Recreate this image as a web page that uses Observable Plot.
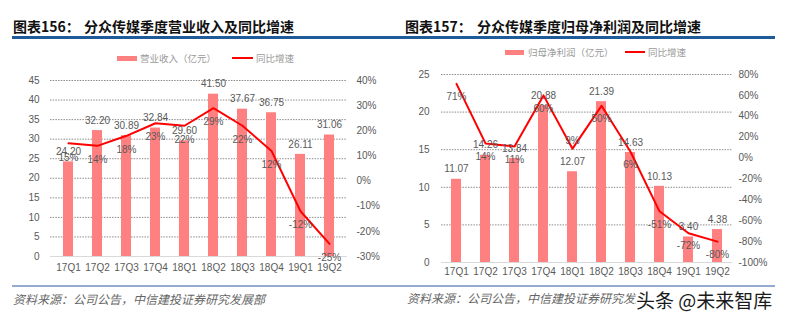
<!DOCTYPE html>
<html>
<head>
<meta charset="utf-8">
<script src="https://cdn.jsdelivr.net/npm/d3@7"></script>
<script src="https://cdn.jsdelivr.net/npm/@observablehq/plot@0.6"></script>
<style>
  html, body { margin: 0; padding: 0; background: #fff; }
  #root { position: relative; width: 790px; height: 321px; overflow: hidden; font-family: "Liberation Sans", Arial, sans-serif; }
  .abs { position: absolute; white-space: nowrap; }
  .title { font-family: "Noto Sans CJK SC", sans-serif; font-weight: bold; font-size: 14px; line-height: 14px; color: #111; }
  .legend { font-family: "Noto Sans CJK SC", sans-serif; font-size: 9.5px; line-height: 10px; color: #9a9a9a; }
  .source { font-family: "Noto Sans CJK SC", sans-serif; font-style: italic; font-size: 12px; line-height: 14px; color: #666; }
  .plot { position: absolute; }
</style>
</head>
<body>
<div id="root"></div>
<script>
// ---------- data ----------
const quarters = ["17Q1","17Q2","17Q3","17Q4","18Q1","18Q2","18Q3","18Q4","19Q1","19Q2"];
const revenue = [24.20, 32.20, 30.89, 32.84, 29.60, 41.50, 37.67, 36.75, 26.11, 31.06];
const revenueYoY = [15, 14, 18, 23, 22, 29, 22, 12, -12, -25];
const profit = [11.07, 14.26, 13.84, 20.88, 12.07, 21.39, 14.63, 10.13, 3.40, 4.38];
const profitYoY = [71, 14, 11, 60, 9, 50, 6, -51, -72, -80];
const leftTicksL = [0, 5, 10, 15, 20, 25, 30, 35, 40, 45];
const leftTicksR = [-30, -20, -10, 0, 10, 20, 30, 40];
const rightTicksL = [0, 5, 10, 15, 20, 25];
const rightTicksR = [-100, -80, -60, -40, -20, 0, 20, 40, 60, 80];

const root = document.getElementById("root");
function addDiv(cls, style, text) {
  const d = document.createElement("div");
  d.className = "abs " + cls;
  Object.assign(d.style, style);
  if (text != null) d.textContent = text;
  root.appendChild(d);
  return d;
}

// ---------- decorations ----------
addDiv("", {left: "12px", top: "36px", width: "763px", height: "3px", background: "#1f5b98"});
addDiv("", {left: "12px", top: "285px", width: "763px", height: "1.5px", background: "#93acd0"});
addDiv("title", {left: "13px", top: "19px"}, "图表156：");
addDiv("title", {left: "84px", top: "19px"}, "分众传媒季度营业收入及同比增速");
addDiv("title", {left: "405px", top: "19px"}, "图表157：");
addDiv("title", {left: "477px", top: "19px"}, "分众传媒季度归母净利润及同比增速");

// legends
addDiv("", {left: "117px", top: "56px", width: "20px", height: "5px", background: "#ff8080"});
addDiv("legend", {left: "140px", top: "53px"}, "营业收入（亿元）");
addDiv("", {left: "232px", top: "57px", width: "21px", height: "2px", background: "#ff0000"});
addDiv("legend", {left: "256px", top: "53px"}, "同比增速");
addDiv("", {left: "505px", top: "50px", width: "19px", height: "5px", background: "#ff8080"});
addDiv("legend", {left: "528px", top: "47px"}, "归母净利润（亿元）");
addDiv("", {left: "625px", top: "51px", width: "20px", height: "2px", background: "#ff0000"});
addDiv("legend", {left: "648px", top: "47px"}, "同比增速");

// sources
addDiv("source", {left: "13px", top: "292px"}, "资料来源：公司公告，中信建投证券研究发展部");
addDiv("source", {left: "407px", top: "291px"}, "资料来源：公司公告，中信建投证券研究发展部");
addDiv("", {left: "636px", top: "288px", fontFamily: "'Noto Sans CJK SC', sans-serif", fontSize: "19px", lineHeight: "24px", color: "#1a1a1a", background: "#fff", paddingRight: "10px"}, "头条 @未来智库");

// ---------- charts ----------
const barColor = "#ff8080";
const lineColor = "#ff0000";
const textColor = "#595959";

function makeChart(opts) {
  const {values, yoy, yMax, pMin, pMax, ticksL, ticksR, width, height, mL, mR, mT, mB, xPad, lPad, rPad, fmtVal, aboveSet, pctDy} = opts;
  const toL = p => (p - pMin) / (pMax - pMin) * yMax;
  const data = quarters.map((q, i) => ({q, v: values[i], p: yoy[i], pl: toL(yoy[i])}));
  return Plot.plot({
    width, height, marginLeft: mL, marginRight: mR, marginTop: mT, marginBottom: mB,
    style: {fontFamily: "'Liberation Sans', Arial, sans-serif", fontSize: "10px", background: "transparent"},
    x: {domain: quarters, type: "band", paddingInner: 0.66, paddingOuter: 0.33},
    y: {domain: [0, yMax]},
    marks: [
      Plot.gridY(ticksL.filter(t => t > 0), {stroke: "#8c8c8c", strokeOpacity: 1, strokeDasharray: "1.5,1.2", strokeWidth: 1}),
      Plot.ruleY([0], {stroke: "#d9d9d9", strokeWidth: 1}),
      Plot.barY(data, {x: "q", y: "v", fill: barColor}),
      Plot.line(data, {x: "q", y: "pl", stroke: lineColor, strokeWidth: 2}),
      Plot.text(data, {x: "q", y: "v", text: d => fmtVal(d.v), dy: -10, fill: textColor, fontSize: 10}),
      Plot.text(data.filter(d => !aboveSet.has(d.q)), {x: "q", y: "pl", text: d => d.p + "%", dy: pctDy, fill: textColor, fontSize: 10}),
      Plot.text(data.filter(d => aboveSet.has(d.q)), {x: "q", y: "pl", text: d => d.p + "%", dy: -8, fill: textColor, fontSize: 10}),
      Plot.axisY(ticksL, {anchor: "left", tickSize: 0, tickPadding: lPad, color: textColor, label: null, fontSize: 10}),
      Plot.axisY(ticksR.map(toL), {anchor: "right", tickSize: 0, tickPadding: rPad, color: textColor, label: null, fontSize: 10,
        tickFormat: v => Math.round(v / yMax * (pMax - pMin) + pMin) + "%"}),
      Plot.axisX({tickSize: 0, tickPadding: xPad, color: textColor, label: null, fontSize: 10})
    ]
  });
}

const left = makeChart({
  values: revenue, yoy: revenueYoY, yMax: 45, pMin: -30, pMax: 40,
  ticksL: leftTicksL, ticksR: leftTicksR,
  width: 395, height: 225, mL: 50, mR: 48, mT: 20, mB: 29,
  xPad: 7, lPad: 11, rPad: 9, fmtVal: v => v.toFixed(2), aboveSet: new Set(), pctDy: 14
});
left.classList.add("plot");
left.style.left = "0px"; left.style.top = "60px";
root.appendChild(left);

const right = makeChart({
  values: profit, yoy: profitYoY, yMax: 25, pMin: -100, pMax: 80,
  ticksL: rightTicksL, ticksR: rightTicksR,
  width: 395, height: 230, mL: 46, mR: 58, mT: 19, mB: 23,
  xPad: 5, lPad: 12, rPad: 6, fmtVal: v => v.toFixed(2), aboveSet: new Set(["18Q1"]), pctDy: 13
});
right.classList.add("plot");
right.style.left = "395px"; right.style.top = "55px";
root.appendChild(right);

// keep watermark on top
root.appendChild(root.children[14]);
</script>
</body>
</html>
